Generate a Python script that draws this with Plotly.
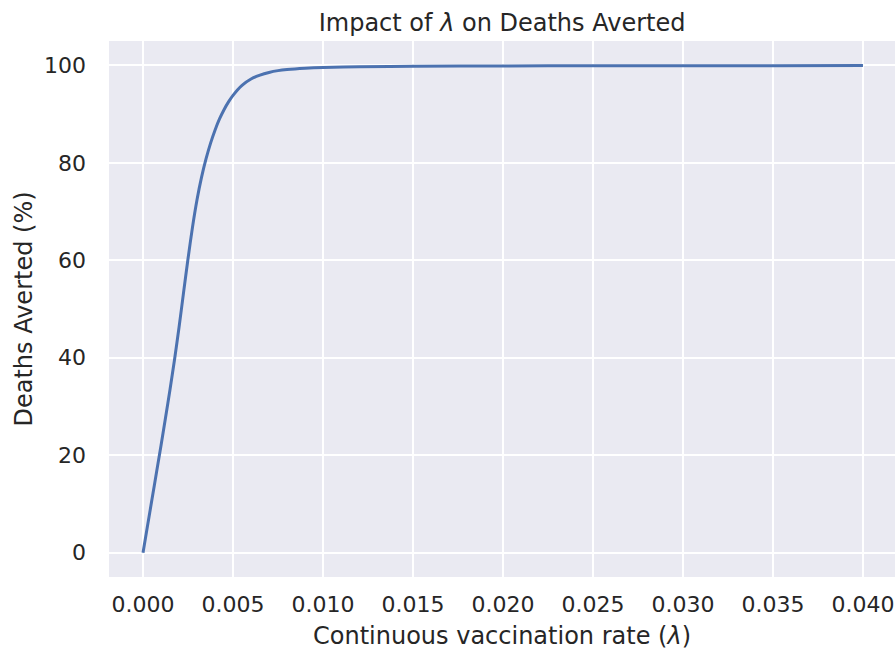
import plotly.graph_objects as go

# Continuous vaccination rate (lambda) and deaths averted (%)
lam = [0.0, 0.00025, 0.0005, 0.00075, 0.001, 0.00125, 0.0015, 0.00175, 0.002, 0.00225,
       0.0025, 0.00275, 0.003, 0.00325, 0.0035, 0.00375, 0.004, 0.00425, 0.0045, 0.00475,
       0.005, 0.0055, 0.006, 0.0065, 0.007, 0.0075, 0.008, 0.009, 0.010, 0.012,
       0.015, 0.020, 0.025, 0.030, 0.035, 0.040]
deaths_averted = [0.0, 5.5, 11.0, 16.5, 22.0, 27.7, 33.5, 39.6, 46.2, 53.3,
                  60.3, 66.8, 72.4, 77.0, 80.8, 84.0, 86.7, 89.0, 90.9, 92.5,
                  93.85, 95.9, 97.2, 98.0, 98.55, 98.92, 99.15, 99.42, 99.58, 99.72,
                  99.82, 99.88, 99.91, 99.93, 99.94, 99.95]

x_ticks = [0.000, 0.005, 0.010, 0.015, 0.020, 0.025, 0.030, 0.035, 0.040]
x_tick_labels = ["0.000", "0.005", "0.010", "0.015", "0.020", "0.025", "0.030", "0.035", "0.040"]
y_ticks = [0, 20, 40, 60, 80, 100]
y_tick_labels = ["0", "20", "40", "60", "80", "100"]

FONT = "DejaVu Sans"
TXT = "#262626"

fig = go.Figure()
fig.add_trace(go.Scatter(
    x=lam, y=deaths_averted, mode="lines",
    line=dict(color="#4C72B0", width=3, shape="spline", smoothing=0.8),
    showlegend=False,
))

fig.update_layout(
    width=895, height=652,
    margin=dict(l=109, r=0, t=41, b=75),
    paper_bgcolor="white",
    plot_bgcolor="#EAEAF2",
    font=dict(family=FONT, color=TXT, size=22),
    title=dict(text="Impact of <i>λ</i> on Deaths Averted", x=0.561, xanchor="center",
               y=0.966, yanchor="middle", font=dict(size=24, family=FONT, color=TXT)),
)
fig.update_xaxes(
    range=[-0.00189, 0.04178], tickvals=x_ticks, ticktext=x_tick_labels,
    showgrid=True, gridcolor="white", gridwidth=2, zeroline=False, showline=False,
    ticks="", ticklabelstandoff=12, automargin=False,
    tickfont=dict(size=22, family=FONT, color=TXT),
    title=dict(text="Continuous vaccination rate (<i>λ</i>)", standoff=11,
               font=dict(size=24, family=FONT, color=TXT)),
)
fig.update_yaxes(
    range=[-5, 105], tickvals=y_ticks, ticktext=y_tick_labels,
    showgrid=True, gridcolor="white", gridwidth=2, zeroline=False, showline=False,
    ticks="", ticklabelstandoff=22, automargin=False,
    tickfont=dict(size=22, family=FONT, color=TXT),
    title=dict(text="Deaths Averted (%)", standoff=4,
               font=dict(size=24, family=FONT, color=TXT)),
)

fig.write_html("out.html")
